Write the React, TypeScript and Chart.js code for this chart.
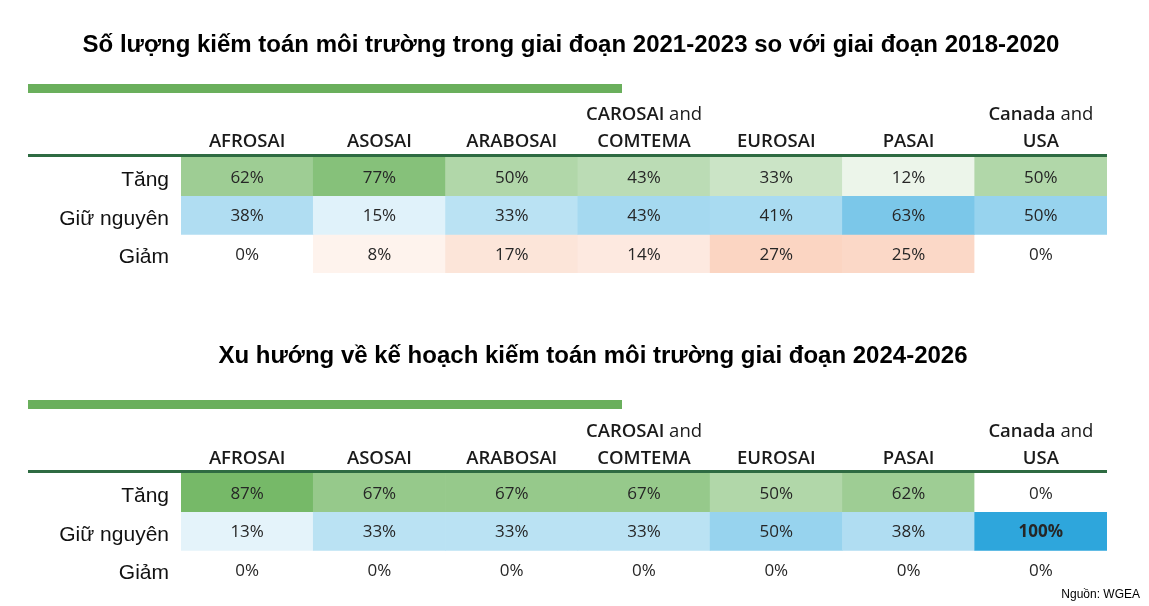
import React, { useEffect, useRef } from "react";
import { Chart, registerables } from "chart.js";

Chart.register(...registerables);

// ---------- DATA ----------
const ORGS = ["AFROSAI", "ASOSAI", "ARABOSAI", "CAROSAI and COMTEMA", "EUROSAI", "PASAI", "Canada and USA"];
const HEADER_LINE1_BOLD = ["", "", "", "CAROSAI", "", "", "Canada"];
const HEADER_LINE1_REGULAR = ["", "", "", "and", "", "", "and"];
const HEADER_LINE2 = ["AFROSAI", "ASOSAI", "ARABOSAI", "COMTEMA", "EUROSAI", "PASAI", "USA"];
const ROW_LABELS = ["Tăng", "Giữ nguyên", "Giảm"];

const TITLE_PAST = "Số lượng kiếm toán môi trường trong giai đoạn 2021-2023 so với giai đoạn 2018-2020";
const PAST_INCREASE = [62, 77, 50, 43, 33, 12, 50];
const PAST_SAME = [38, 15, 33, 43, 41, 63, 50];
const PAST_DECREASE = [0, 8, 17, 14, 27, 25, 0];

const TITLE_PLAN = "Xu hướng về kế hoạch kiếm toán môi trường giai đoạn 2024-2026";
const PLAN_INCREASE = [87, 67, 67, 67, 50, 62, 0];
const PLAN_SAME = [13, 33, 33, 33, 50, 38, 100];
const PLAN_DECREASE = [0, 0, 0, 0, 0, 0, 0];

const SOURCE = "Nguồn: WGEA";

// ---------- STYLE ----------
const ROW_BASE_COLORS = [
  [98, 174, 82],
  [46, 166, 220],
  [240, 100, 30],
];
const mix = (base: number[], v: number) => {
  const t = v / 100;
  return `rgb(${base.map((c) => Math.round(255 - t * (255 - c))).join(",")})`;
};

const WIDTH = 1149;
const TABLE_LEFT = 181;
const TABLE_RIGHT = 1107;
const LINE_LEFT = 28;

type Geom = {
  height: number;
  titleX: number;
  titleY: number;
  barY: number;
  header1Y: number;
  header2Y: number;
  ruleY: number;
  top: number;
  bottom: number;
};

const GEOM_PAST: Geom = { height: 310, titleX: 571, titleY: 45, barY: 84, header1Y: 115, header2Y: 142, ruleY: 154, top: 157, bottom: 273 };
const GEOM_PLAN: Geom = { height: 296, titleX: 593, titleY: 46, barY: 90, header1Y: 122, header2Y: 149, ruleY: 160, top: 163, bottom: 279 };

const decorPlugin = {
  id: "decor",
  afterDraw(chart: any, _args: any, opts: any) {
    const ctx = chart.ctx as CanvasRenderingContext2D;
    const xs = chart.scales.x;
    const g: Geom = opts.geom;
    ctx.save();
    // title
    ctx.font = 'bold 24px "Liberation Sans", Arial, sans-serif';
    ctx.fillStyle = "#000";
    ctx.textAlign = "center";
    ctx.textBaseline = "middle";
    ctx.fillText(opts.title, g.titleX, g.titleY);
    // green bar
    ctx.fillStyle = "#6aaf5c";
    ctx.fillRect(LINE_LEFT, g.barY, 594, 9);
    // dark rule
    ctx.fillStyle = "#2e6b42";
    ctx.fillRect(LINE_LEFT, g.ruleY, chart.chartArea.right - LINE_LEFT, 3);
    // headers
    const boldFont = '600 18.5px "Open Sans", sans-serif';
    const regFont = '400 18.5px "Open Sans", sans-serif';
    ctx.fillStyle = "#1a1a1a";
    ORGS.forEach((_, j) => {
      const cx = xs.getPixelForValue(j);
      const b = HEADER_LINE1_BOLD[j];
      const r = HEADER_LINE1_REGULAR[j];
      if (b) {
        ctx.font = boldFont;
        const wb = ctx.measureText(b).width;
        ctx.font = regFont;
        const wr = ctx.measureText(" " + r).width;
        const start = cx - (wb + wr) / 2;
        ctx.textAlign = "left";
        ctx.font = boldFont;
        ctx.fillText(b, start, g.header1Y);
        ctx.font = regFont;
        ctx.fillText(" " + r, start + wb, g.header1Y);
      }
      ctx.textAlign = "center";
      ctx.font = boldFont;
      ctx.fillText(HEADER_LINE2[j], cx, g.header2Y);
    });
    // value labels
    const rows: number[][] = opts.values;
    rows.forEach((vals, di) => {
      const meta = chart.getDatasetMeta(di);
      meta.data.forEach((bar: any, j: number) => {
        const v = vals[j];
        const cy = (bar.y + bar.base) / 2 + 1.5;
        ctx.font = v === 100 ? '700 17px "Open Sans", sans-serif' : '400 17px "Open Sans", sans-serif';
        ctx.fillStyle = "#262626";
        ctx.textAlign = "center";
        ctx.fillText(v + "%", bar.x, cy);
      });
    });
    if (opts.source) {
      ctx.font = '12px "Liberation Sans", Arial, sans-serif';
      ctx.fillStyle = "#000";
      ctx.textAlign = "right";
      ctx.fillText(opts.source, 1140, g.height - 11);
    }
    ctx.restore();
  },
};

function HeatTable({ geom, title, values, source }: { geom: Geom; title: string; values: number[][]; source?: string }) {
  const ref = useRef<HTMLCanvasElement>(null);
  useEffect(() => {
    const chart = new Chart(ref.current!, {
      type: "bar",
      data: {
        labels: ORGS,
        datasets: values.map((vals, i) => ({
          label: ROW_LABELS[i],
          data: vals.map(() => [i, i + 1]) as any,
          backgroundColor: vals.map((v) => mix(ROW_BASE_COLORS[i], v)),
          borderWidth: 0,
          grouped: false,
          barPercentage: 1,
          categoryPercentage: 1,
        })),
      },
      options: {
        responsive: false,
        animation: false,
        events: [],
        layout: { padding: { top: geom.top, bottom: geom.height - geom.bottom, left: 0, right: WIDTH - TABLE_RIGHT } },
        plugins: {
          legend: { display: false },
          tooltip: { enabled: false },
          title: { display: false },
          decor: { geom, title, values, source },
        } as any,
        scales: {
          x: { type: "category", display: false, offset: true },
          y: {
            type: "linear",
            min: 0,
            max: 3,
            reverse: true,
            afterBuildTicks: (s: any) => {
              s.ticks = ROW_LABELS.map((_, i) => ({ value: i + 0.5 }));
            },
            afterFit: (s: any) => {
              s.width = TABLE_LEFT;
              s.paddingTop = 0;
              s.paddingBottom = 0;
            },
            ticks: {
              autoSkip: false,
              padding: 12,
              labelOffset: 4,
              color: "#111",
              font: { family: '"Liberation Sans", Arial, sans-serif', size: 21 },
              callback: (v: any) => ROW_LABELS[Math.floor(Number(v))],
            },
            grid: { display: false, drawTicks: false },
            border: { display: false },
          },
        },
      },
      plugins: [decorPlugin],
    });
    return () => chart.destroy();
  }, []);
  return <canvas ref={ref} width={WIDTH} height={geom.height} style={{ display: "block" }} />;
}

export default function App() {
  useEffect(() => {
    document.body.style.margin = "0";
    document.body.style.background = "#fff";
  }, []);
  return (
    <div style={{ width: WIDTH, background: "#fff" }}>
      <HeatTable geom={GEOM_PAST} title={TITLE_PAST} values={[PAST_INCREASE, PAST_SAME, PAST_DECREASE]} />
      <HeatTable geom={GEOM_PLAN} title={TITLE_PLAN} values={[PLAN_INCREASE, PLAN_SAME, PLAN_DECREASE]} source={SOURCE} />
    </div>
  );
}
